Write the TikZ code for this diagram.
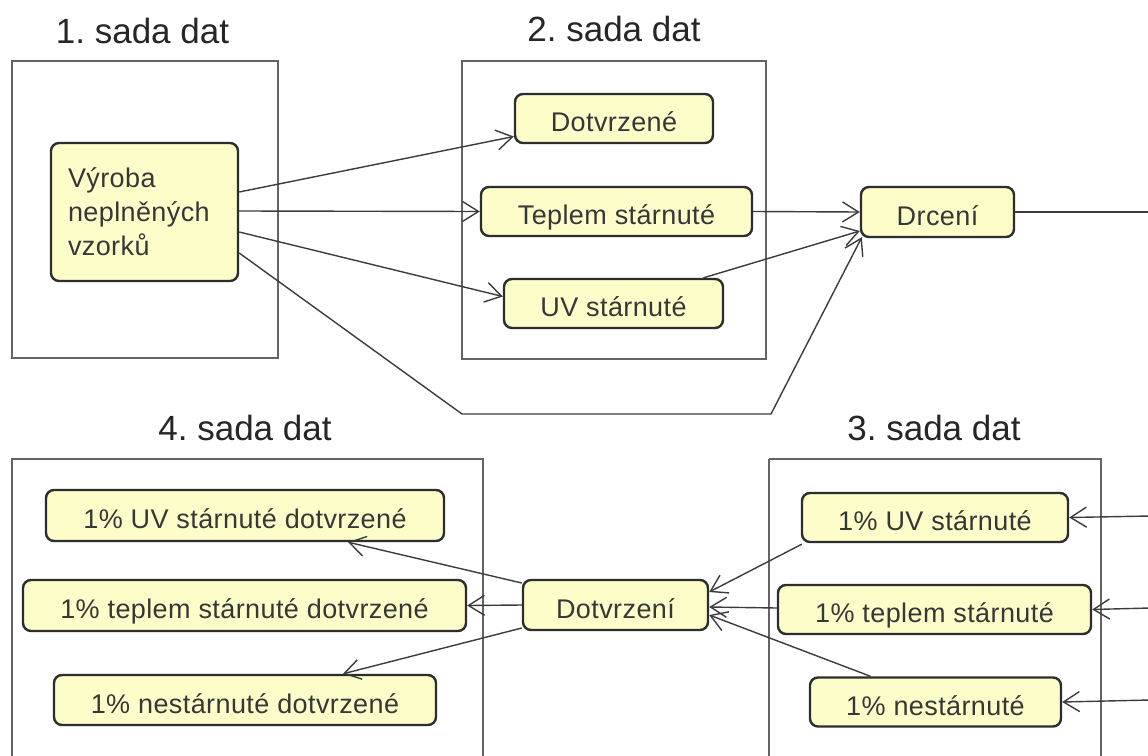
\documentclass[tikz,border=0pt]{standalone}
\usepackage{fontspec}
\setmainfont{Liberation Sans}
\usetikzlibrary{arrows.meta,calc}
\definecolor{nodefill}{RGB}{253,253,202}
\definecolor{nodeline}{RGB}{45,45,45}
\definecolor{frameline}{RGB}{100,100,100}
\definecolor{conn}{RGB}{60,60,60}
\definecolor{txt}{RGB}{55,55,55}
\frenchspacing
\begin{document}
\begin{tikzpicture}[x=1pt,y=-1pt,
  box/.style={draw=nodeline,line width=2.4pt,fill=nodefill,rounded corners=8pt,
    minimum height=49pt,inner sep=0pt,text=txt,
    font=\fontsize{27}{34}\selectfont\addfontfeatures{LetterSpace=1.5}},
  one/.style={box,text height=26pt,text depth=0pt},
  frame/.style={draw=frameline,line width=1.4pt},
  title/.style={anchor=base,inner sep=0pt,text=black!85,font=\fontsize{35}{40}\selectfont},
  conn/.style={draw=conn,line width=1.4pt},
  arr/.style={conn,-{Straight Barb[length=16pt,width=20pt,line width=1.4pt]}}]
\useasboundingbox (0,0) rectangle (1148,755);
\fill[white] (0,0) rectangle (1148,755);
% frames
\draw[frame] (12,61) rectangle (278,358);
\draw[frame] (462,61) rectangle (766,359);
\draw[frame] (769,459) -- (769,780) (769,459) -- (1101,459) -- (1101,780);
\draw[frame] (12,780) -- (12,459) -- (483,459) -- (483,780);
% titles
\node[title] (t1) at (142.5,43) {1. sada dat};
\node[title] (t2) at (614,41) {2. sada dat};
\node[title] (t4) at (245,440) {4. sada dat};
\node[title] (t3) at (934,440) {3. sada dat};
% nodes
\node[box,minimum width=187pt,minimum height=138pt,text width=153pt,align=left,
  inner xsep=17pt] (vyroba) at (144.5,212) {Výroba\\neplněných\\vzorků};
\node[one,minimum width=198pt] (dotvrzene) at (614,118.5) {Dotvrzené};
\node[one,minimum width=271pt] (teplem) at (616.5,211.5) {Teplem stárnuté};
\node[one,minimum width=219pt] (uv) at (613.5,303.5) {UV stárnuté};
\node[one,minimum width=153pt,minimum height=50pt] (drceni) at (937.5,212) {Drcení};
\node[one,minimum width=266pt] (uv3) at (935,517.5) {1\% UV stárnuté};
\node[one,minimum width=313pt] (teplem3) at (934.5,609.5) {1\% teplem stárnuté};
\node[one,minimum width=251pt] (nest3) at (935.5,702) {1\% nestárnuté};
\node[one,minimum width=398pt,minimum height=51pt] (uv4) at (245,515.5) {1\% UV stárnuté dotvrzené};
\node[one,minimum width=443pt,minimum height=51pt] (teplem4) at (244.5,605.5) {1\% teplem stárnuté dotvrzené};
\node[one,minimum width=382pt,minimum height=50pt] (nest4) at (245,700) {1\% nestárnuté dotvrzené};
\node[one,minimum width=185pt,minimum height=50pt] (dotvrzeni) at (615.5,605) {Dotvrzení};
% coordinates at right edge
\coordinate (r0) at (1150,212);
\coordinate (r1) at (1150,516);
\coordinate (r2) at (1150,608);
\coordinate (r3) at (1150,700);
\coordinate (bend1) at (462,414);
\coordinate (bend2) at (771,414);
% connectors top
\draw[arr] ([yshift=20pt]vyroba.east) -- ([yshift=-18pt]dotvrzene.west);
\draw[arr] ([yshift=1pt]vyroba.east) -- (teplem.west);
\draw[arr] ([yshift=-20pt]vyroba.east) -- ([yshift=7pt]uv.west);
\draw[arr] ([yshift=-41pt]vyroba.east) -- (bend1) -- (bend2) -- ([xshift=2pt,yshift=1pt]drceni.south west);
\draw[arr] (teplem.east) -- (drceni.west);
\draw[arr] ([xshift=90pt]uv.north) -- ([yshift=-19pt]drceni.west);
\draw[conn,line width=2.4pt] (drceni.east) -- (r0);
% connectors bottom
\draw[arr] (r1) -- (uv3.east);
\draw[arr] (r2) -- (teplem3.east);
\draw[arr] (r3) -- (nest3.east);
\draw[arr] ([xshift=1pt,yshift=-1pt]uv3.south west) -- ([yshift=13pt]dotvrzeni.east);
\draw[arr] ([yshift=1.5pt]teplem3.west) -- ([yshift=-2pt]dotvrzeni.east);
\draw[arr] ([xshift=-65pt]nest3.north) -- ([yshift=-10pt]dotvrzeni.east);
\draw[arr] ([yshift=22pt]dotvrzeni.west) -- ([xshift=103pt]uv4.south);
\draw[arr] (dotvrzeni.west) -- (teplem4.east);
\draw[arr] ([yshift=-23pt]dotvrzeni.west) -- ([xshift=98pt]nest4.north);
\end{tikzpicture}
\end{document}
